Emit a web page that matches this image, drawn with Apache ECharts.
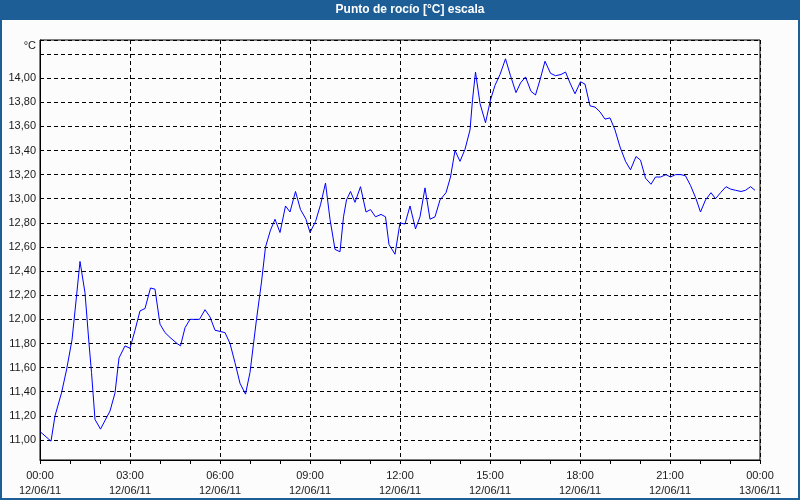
<!DOCTYPE html>
<html><head><meta charset="utf-8">
<script src="https://cdn.jsdelivr.net/npm/echarts@6/dist/echarts.min.js"></script>
<style>html,body{margin:0;padding:0;background:#fbfcfb}#c{width:800px;height:500px}</style>
</head><body><div id="c"></div>
<script>
const titleText = 'Punto de rocío [°C] escala';
const unitLabel = '°C';
const xTickTimes = ['00:00','03:00','06:00','09:00','12:00','15:00','18:00','21:00','00:00'];
const xTickDates = ['12/06/11','12/06/11','12/06/11','12/06/11','12/06/11','12/06/11','12/06/11','12/06/11','13/06/11'];
const times = [
'00:00','00:22','00:30','00:43','00:53','01:04','01:10','01:20','01:30','01:38','01:43','01:50',
'02:01','02:20','02:30','02:38','02:50','03:00','03:10','03:20','03:30','03:41','03:50',
'04:00','04:10','04:20','04:34','04:41','04:50','05:00','05:19','05:30','05:40','05:50',
'06:00','06:10','06:20','06:30','06:40','06:51','07:00','07:13','07:23','07:31','07:41','07:50',
'08:00','08:11','08:20','08:31','08:41','08:52','09:00','09:11','09:21','09:31','09:40','09:50',
'10:00','10:07','10:13','10:21','10:30','10:41','10:52','11:01','11:11','11:22','11:31','11:38','11:50',
'12:00','12:10','12:20','12:31','12:40','12:50','13:00','13:10','13:20','13:32','13:41','13:50',
'14:00','14:10','14:20','14:25','14:31','14:40','14:51','15:01','15:10','15:20','15:31','15:41','15:52',
'16:01','16:11','16:22','16:31','16:41','16:50','17:01','17:11','17:22','17:31','17:40','17:50',
'18:01','18:10','18:20','18:30','18:40','18:50','19:00','19:10','19:20','19:31','19:41','19:52',
'20:01','20:11','20:22','20:31','20:41','20:52','21:01','21:11','21:22','21:31','21:41','21:52',
'22:01','22:11','22:22','22:31','22:41','22:52','23:01','23:11','23:22','23:31','23:41','23:50'
];
const dewPoint = [
11.07,10.99,11.20,11.39,11.58,11.83,12.07,12.48,12.22,11.80,11.56,11.17,
11.09,11.24,11.39,11.68,11.78,11.76,11.91,12.07,12.09,12.26,12.25,
11.96,11.89,11.85,11.80,11.78,11.93,12.00,12.00,12.08,12.02,11.91,
11.90,11.89,11.80,11.64,11.47,11.38,11.56,12.00,12.31,12.60,12.74,12.83,
12.72,12.94,12.89,13.06,12.91,12.83,12.72,12.81,12.95,13.13,12.83,12.58,
12.56,12.85,12.99,13.06,12.97,13.10,12.89,12.91,12.85,12.87,12.85,12.62,12.54,
12.80,12.79,12.94,12.75,12.85,13.09,12.83,12.85,12.99,13.05,13.18,13.40,
13.31,13.41,13.57,13.82,14.05,13.79,13.63,13.82,13.94,14.03,14.16,14.02,13.88,
13.96,14.01,13.89,13.86,14.00,14.14,14.04,14.02,14.03,14.05,13.96,13.87,
13.97,13.95,13.77,13.76,13.72,13.66,13.67,13.57,13.43,13.31,13.24,13.35,
13.32,13.17,13.12,13.18,13.18,13.20,13.18,13.20,13.20,13.19,13.11,13.00,
12.89,12.99,13.05,13.00,13.05,13.10,13.08,13.07,13.06,13.07,13.10,13.07
];
const toHours = t => { const p = t.split(':'); return +p[0] + (+p[1]) / 60; };
const seriesData = times.map((t, i) => [toHours(t), dewPoint[i]]);
const blue = '#1d5e96';
const font = 'Liberation Sans, Arial, sans-serif';
const chart = echarts.init(document.getElementById('c'));
chart.setOption({
  animation: false,
  backgroundColor: '#fbfcfb',
  grid: { left: 40, top: 40, width: 720, height: 420, show: true, borderColor: '#000', borderWidth: 1, backgroundColor: 'transparent' },
  xAxis: {
    type: 'value', min: 0, max: 24, interval: 3,
    axisLine: { show: true, lineStyle: { color: '#000', width: 1 } },
    axisTick: { show: true, length: 4, lineStyle: { color: '#000' } },
    minorTick: { show: true, splitNumber: 3, length: 4, lineStyle: { color: '#000' } },
    splitLine: { show: true, lineStyle: { color: '#000', type: [4, 3], width: 1 } },
    axisLabel: {
      margin: 8, fontSize: 11, fontFamily: font, color: '#1a1a1a', lineHeight: 15,
      formatter: v => { const i = Math.round(v / 3); return xTickTimes[i] + '\n' + xTickDates[i]; }
    }
  },
  yAxis: {
    type: 'value', min: 10.834, max: 14.316, splitNumber: 17, scale: true,
    axisLine: { show: true, lineStyle: { color: '#000' } },
    axisTick: { show: false },
    splitLine: { show: true, lineStyle: { color: '#000', type: [4, 3], width: 1 } },
    axisLabel: {
      margin: 4, fontSize: 11, fontFamily: font, color: '#1a1a1a',
      showMinLabel: false, showMaxLabel: false,
      formatter: v => (v < 10.95 || v > 14.1) ? '' : v.toFixed(2).replace('.', ',')
    }
  },
  series: [{
    type: 'line', data: seriesData, showSymbol: false, symbol: 'none',
    lineStyle: { color: '#0000ff', width: 1 }, z: 5
  }],
  graphic: [
    { type: 'rect', shape: { x: 0, y: 0, width: 800, height: 20 }, style: { fill: blue }, z: 10 },
    { type: 'text', x: 410, y: 10, style: { text: titleText, fill: '#fff', font: 'bold 12px ' + font, align: 'center', verticalAlign: 'middle' }, z: 11 },
    { type: 'rect', shape: { x: 1, y: 1, width: 798, height: 498 }, style: { fill: 'none', stroke: blue, lineWidth: 2 }, z: 10 },
    { type: 'text', x: 36, y: 46, style: { text: unitLabel, fill: '#1a1a1a', font: '11px ' + font, align: 'right', verticalAlign: 'middle' }, z: 11 }
  ]
});
</script></body></html>
